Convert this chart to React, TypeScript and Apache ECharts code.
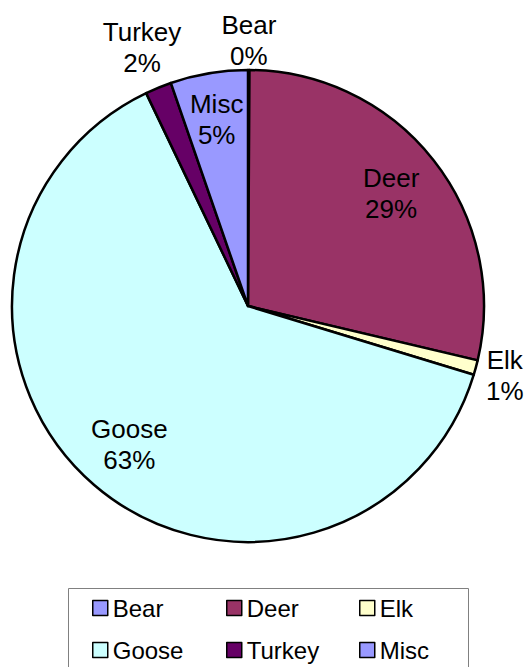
import React, { useEffect, useRef } from "react";
import * as echarts from "echarts";

const categories = ["Bear", "Deer", "Elk", "Goose", "Turkey", "Misc"];
const values = [0.1, 28.6, 1.0, 63.2, 1.8, 5.3];
const colors = ["#9999FF", "#993366", "#FFFFCC", "#CCFFFF", "#660066", "#9999FF"];
const labelGroups = [
  { names: ["Deer", "Goose"], radius: [122, 236] },
  { names: ["Misc"], radius: [136, 236] },
  { names: ["Bear", "Elk"], radius: [236, 290] },
  { names: ["Turkey"], radius: [236, 316] },
];
const legendColumns = [
  ["Bear", "Goose"],
  ["Deer", "Turkey"],
  ["Elk", "Misc"],
];

const FONT = "'Liberation Sans', Arial, sans-serif";

export default function App() {
  const ref = useRef<HTMLDivElement>(null);
  useEffect(() => {
    if (!ref.current) return;
    const chart = echarts.init(ref.current, undefined, { renderer: "svg" });
    const center = [248, 306];
    const R = 236;
    const labelRing = (names: string[], radius: number[]) => ({
      type: "pie",
      center,
      radius,
      startAngle: 90,
      silent: true,
      legendHoverLink: false,
      avoidLabelOverlap: false,
      percentPrecision: 0,
      itemStyle: { color: "transparent", borderWidth: 0 },
      emphasis: { disabled: true },
      labelLine: { show: false },
      data: categories.map((c, i) => ({
        name: c,
        value: values[i],
        itemStyle: { color: "transparent" },
        label: {
          show: names.indexOf(c) >= 0,
          position: "inside",
          formatter: "{b}\n{d}%",
          color: "#000",
          fontSize: 26,
          lineHeight: 31,
          fontFamily: FONT,
          align: "center",
        },
      })),
    });
    const option: any = {
      animation: false,
      backgroundColor: "#fff",
      legend: legendColumns.map((col, k) => ({
        orient: "vertical",
        left: [92, 226, 359][k],
        top: 594,
        padding: 0,
        itemGap: 14,
        itemWidth: 15,
        itemHeight: 15,
        icon: "rect",
        selectedMode: false,
        itemStyle: { borderColor: "#000", borderWidth: 1.5 },
        textStyle: { fontSize: 24, lineHeight: 28, fontFamily: FONT, color: "#000", padding: [0, 0, 0, 0] },
        data: col,
      })),
      graphic: [
        {
          type: "rect",
          shape: { x: 68.5, y: 588.5, width: 400, height: 100 },
          style: { fill: "none", stroke: "#808080", lineWidth: 1 },
          silent: true,
        },
      ],
      series: [
        {
          type: "pie",
          center,
          radius: [0, R],
          startAngle: 90,
          clockwise: true,
          label: { show: false },
          labelLine: { show: false },
          emphasis: { disabled: true },
          itemStyle: { borderColor: "#000", borderWidth: 2.5 },
          data: categories.map((c, i) => ({
            name: c,
            value: values[i],
            itemStyle: { color: colors[i] },
          })),
        },
        ...labelGroups.map((g) => labelRing(g.names, g.radius)),
      ],
    };
    chart.setOption(option);
    return () => chart.dispose();
  }, []);
  return (
    <div
      ref={ref}
      style={{ position: "absolute", left: 0, top: 0, width: 524, height: 667, background: "#fff" }}
    />
  );
}
